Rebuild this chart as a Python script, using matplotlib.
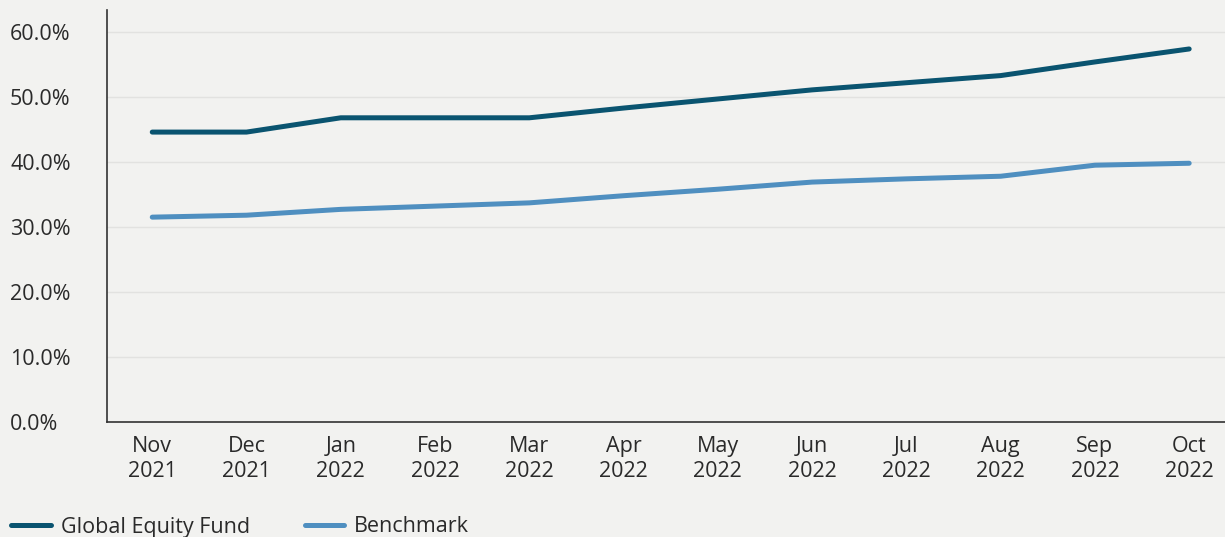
import matplotlib
matplotlib.use("Agg")
import matplotlib.pyplot as plt

months = ["Nov\n2021", "Dec\n2021", "Jan\n2022", "Feb\n2022", "Mar\n2022", "Apr\n2022",
          "May\n2022", "Jun\n2022", "Jul\n2022", "Aug\n2022", "Sep\n2022", "Oct\n2022"]
fund = [44.6, 44.6, 46.8, 46.8, 46.8, 48.3, 49.7, 51.1, 52.2, 53.3, 55.4, 57.4]
benchmark = [31.5, 31.8, 32.7, 33.2, 33.7, 34.8, 35.8, 36.9, 37.4, 37.8, 39.5, 39.8]
yticks = [0, 10, 20, 30, 40, 50, 60]
ytick_labels = ["0.0%", "10.0%", "20.0%", "30.0%", "40.0%", "50.0%", "60.0%"]

plt.rcParams['font.family'] = ['Open Sans', 'DejaVu Sans']
bg = "#f2f2f0"
fs = 15.5
fig = plt.figure(figsize=(12.25, 5.37), dpi=100, facecolor=bg)
ax = fig.add_axes([107/1225, 1 - 421.7/537, (1225-107)/1225, (421.7-10)/537])
ax.set_facecolor(bg)

x = list(range(len(months)))
ax.plot(x, fund, color="#0a5470", lw=3.6, solid_capstyle="round", label="Global Equity Fund", zorder=3)
ax.plot(x, benchmark, color="#4f8fc0", lw=3.6, solid_capstyle="round", label="Benchmark", zorder=3)

ax.set_ylim(0, 63.4)
ax.set_xlim(-0.48, 11.38)
ax.set_yticks(yticks)
ax.set_yticklabels(ytick_labels)
ax.set_xticks(x)
ax.set_xticklabels(months, linespacing=1.25)
ax.tick_params(axis="both", length=0, labelsize=fs, colors="#2a2a2a")
ax.tick_params(axis="x", pad=10)
ax.tick_params(axis="y", pad=0)
for lbl in ax.get_yticklabels():
    lbl.set_horizontalalignment("left")
    lbl.set_x(-97/1118)
ax.grid(axis="y", color="#e2e2e0", lw=1)
ax.set_axisbelow(True)
for s in ["top", "right"]:
    ax.spines[s].set_visible(False)
for s in ["left", "bottom"]:
    ax.spines[s].set_color("#333333")
    ax.spines[s].set_linewidth(1.2)

leg = fig.legend(loc="center left", bbox_to_anchor=(11/1225, 1 - 527/537), ncol=2, frameon=False,
                 fontsize=fs, handlelength=1.85, columnspacing=2.55, handletextpad=0.45,
                 borderpad=0, borderaxespad=0)
for t in leg.get_texts():
    t.set_color("#2a2a2a")

fig.savefig("out.png", dpi=100, facecolor=bg)
